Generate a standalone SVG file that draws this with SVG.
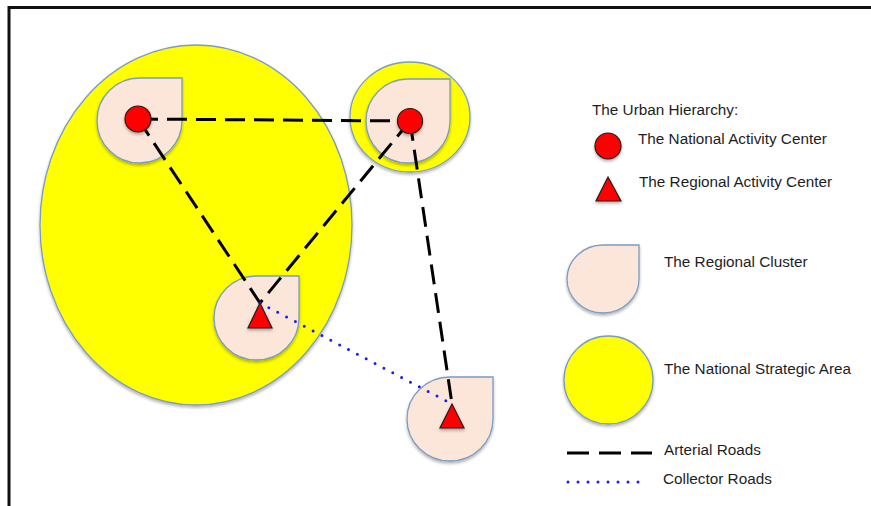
<svg xmlns="http://www.w3.org/2000/svg" width="871" height="506" viewBox="0 0 871 506">
  <style>
    .nsa { fill: #ffff00; stroke: #7b9cc2; stroke-width: 1.3; }
    .cluster { fill: #fbe6d9; stroke: #7b9cc2; stroke-width: 1.3; }
    .nac { fill: #ff0000; stroke: #2a1a1a; stroke-width: 1.2; }
    .arterial { fill: none; stroke: #000; stroke-width: 3; stroke-dasharray: 20 9; }
    .collector { fill: none; stroke: #1a1aff; stroke-width: 3; stroke-dasharray: 0 10; stroke-linecap: round; }
    .label { font-family: "Liberation Sans", Arial, sans-serif; font-size: 15.3px; fill: #1e1e1e; }
    .frame { stroke: #111; stroke-width: 3; fill: none; }
  </style>
  <defs>
    <filter id="shadow" x="-20%" y="-20%" width="140%" height="150%">
      <feDropShadow dx="0" dy="2" stdDeviation="1.6" flood-color="#000" flood-opacity="0.3"/>
    </filter>
  </defs>

  <rect width="871" height="506" fill="#fff"/>

  <!-- frame: top and left edges only -->
  <path class="frame" d="M9 506 V7.5 H871"/>

  <!-- national strategic areas -->
  <g id="nsa-west">
    <ellipse class="nsa" cx="196" cy="225" rx="156" ry="180" filter="url(#shadow)"/>
  </g>
  <g id="nsa-east">
    <ellipse class="nsa" cx="410" cy="117" rx="60" ry="55" filter="url(#shadow)"/>
  </g>

  <!-- regional clusters (teardrop: circle with a square top-right corner) -->
  <g id="cluster-nw">
    <path class="cluster" d="M139.5 78 H182 V120 A42.5 42.5 0 1 1 139.5 78 Z" filter="url(#shadow)"/>
  </g>
  <g id="cluster-ne">
    <path class="cluster" d="M408 79 H450 V121 A42 42 0 1 1 408 79 Z" filter="url(#shadow)"/>
  </g>
  <g id="cluster-mid">
    <path class="cluster" d="M256.5 276 H299 V318 A42.5 42 0 1 1 256.5 276 Z" filter="url(#shadow)"/>
  </g>
  <g id="cluster-se">
    <path class="cluster" d="M450 377 H493 V419 A43 42 0 1 1 450 377 Z" filter="url(#shadow)"/>
  </g>

  <!-- road connectors -->
  <g id="roads">
    <line class="arterial" x1="138" y1="119" x2="410" y2="121"/>
    <line class="arterial" x1="138" y1="119" x2="260" y2="303"/>
    <line class="arterial" x1="410" y1="121" x2="260" y2="303"/>
    <line class="arterial" x1="410" y1="121" x2="452" y2="404"/>
    <line class="collector" x1="260" y1="303" x2="452" y2="404"/>
  </g>

  <!-- activity centers -->
  <g id="center-nw">
    <circle class="nac" cx="138" cy="119" r="13" filter="url(#shadow)"/>
  </g>
  <g id="center-ne">
    <circle class="nac" cx="410" cy="121" r="12.5" filter="url(#shadow)"/>
  </g>
  <g id="center-mid">
    <polygon class="nac" points="260,303 272,328 248,328" filter="url(#shadow)"/>
  </g>
  <g id="center-se">
    <polygon class="nac" points="452,404 464,428 440,428" filter="url(#shadow)"/>
  </g>

  <!-- legend -->
  <g id="legend">
    <text class="label" x="592" y="115">The Urban Hierarchy:</text>

    <circle class="nac" cx="608" cy="146" r="13" filter="url(#shadow)"/>
    <text class="label" x="638" y="144">The National Activity Center</text>

    <polygon class="nac" points="608,177 621,201 596,201" filter="url(#shadow)"/>
    <text class="label" x="639" y="187">The Regional Activity Center</text>

    <path class="cluster" d="M603 245 H639 V279 A36 34 0 1 1 603 245 Z" filter="url(#shadow)"/>
    <text class="label" x="664" y="267">The Regional Cluster</text>

    <ellipse class="nsa" cx="608.5" cy="380" rx="44.5" ry="44" filter="url(#shadow)"/>
    <text class="label" x="664" y="374">The National Strategic Area</text>

    <line class="arterial" x1="567" y1="453" x2="652" y2="453" style="stroke-dasharray: 22 10"/>
    <text class="label" x="664" y="455">Arterial Roads</text>

    <line class="collector" x1="568" y1="482" x2="648" y2="482"/>
    <text class="label" x="663" y="484">Collector Roads</text>
  </g>
</svg>
